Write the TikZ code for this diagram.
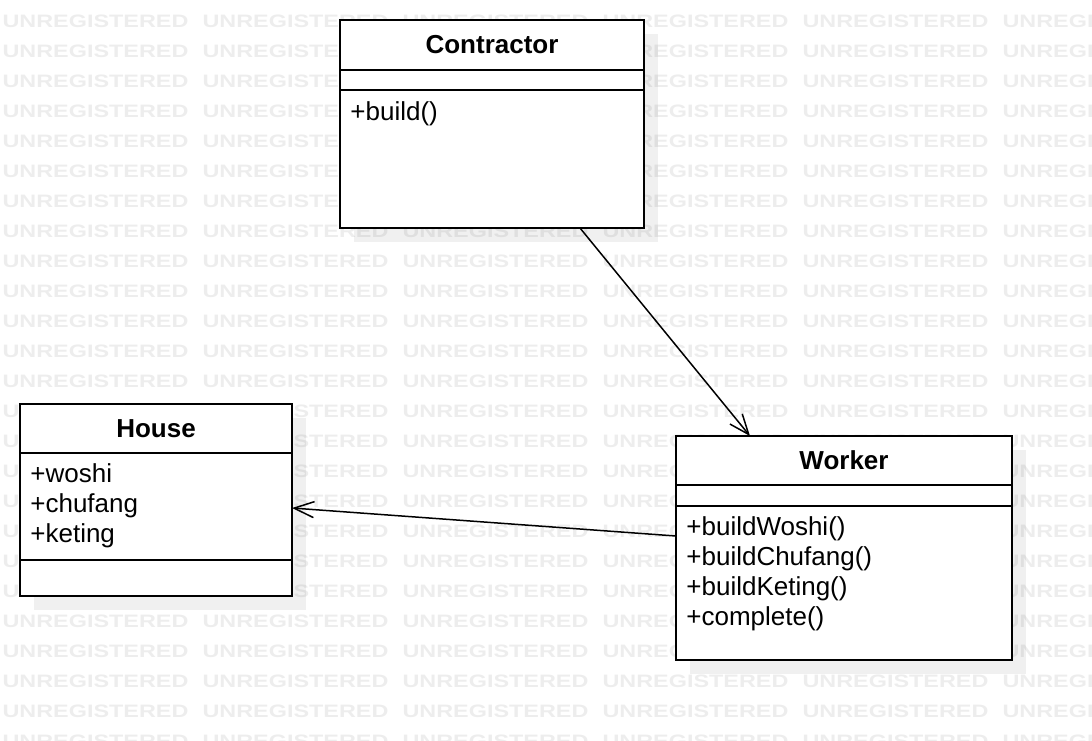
\documentclass[tikz,border=0pt]{standalone}
\usepackage{fontspec}
\setmainfont{Liberation Sans}
\usetikzlibrary{arrows.meta,positioning}
\tikzset{box/.style={draw,fill=white,line width=1pt,inner sep=0pt,outer sep=0pt,anchor=north west},nm/.style={font=\fontsize{13}{15}\selectfont\bfseries},mem/.style={anchor=north west,inner sep=0pt,align=left},wm/.style={text=black!7,font=\fontsize{9}{9}\selectfont\bfseries,inner sep=0pt,anchor=west,xscale=1.3},shd/.style={fill=black,opacity=.06},arr/.style={-{Straight Barb[length=10pt,width=8pt]},line width=.75pt}}
\begin{document}
\begin{tikzpicture}[x=.5pt,y=-.5pt,font=\fontsize{13}{15}\selectfont]
\useasboundingbox(0,0)rectangle(1092,740);\clip(0,0)rectangle(1092,740);
\foreach\r in{-1,...,24}\foreach\c in{0,...,5}\node[wm]at(200*\c+2,21.5+30*\r){UNREGISTERED};
\foreach\a/\b/\c/\d in{340/20/644/228,20/404/292/596,676/436/1012/660}\fill[shd](\a+14,\b+14)rectangle(\c+14,\d+14);
\node[box,nm,minimum width=152pt,minimum height=25pt](Cn)at(340,20){Contractor};
\node[box,minimum width=152pt,minimum height=10pt](Ca)at(Cn.south west){};
\node[box,minimum width=152pt,minimum height=69pt](Co)at(Ca.south west){};
\node[mem]at([xshift=5pt,yshift=-5.5pt]Co.north west){+build()};
\node[box,nm,minimum width=136pt,minimum height=24.5pt](Hn)at(20,404){House};
\node[box,minimum width=136pt,minimum height=53.5pt](Ha)at(Hn.south west){};
\node[box,minimum width=136pt,minimum height=18pt](Ho)at(Ha.south west){};
\node[mem]at([xshift=5pt,yshift=-5pt]Ha.north west){+woshi\\+chufang\\+keting};
\node[box,nm,minimum width=168pt,minimum height=24.5pt](Wn)at(676,436){Worker};
\node[box,minimum width=168pt,minimum height=10.5pt](Wa)at(Wn.south west){};
\node[box,minimum width=168pt,minimum height=77pt](Wo)at(Wa.south west){};
\node[mem]at([xshift=5pt,yshift=-5pt]Wo.north west){+buildWoshi()\\+buildChufang()\\+buildKeting()\\+complete()};
\draw[arr]([xshift=44pt]Co.south)--([xshift=-47pt]Wn.north);
\draw[arr]([yshift=23.5pt]Wo.west)--([yshift=-.75pt]Ha.east);
\end{tikzpicture}
\end{document}
